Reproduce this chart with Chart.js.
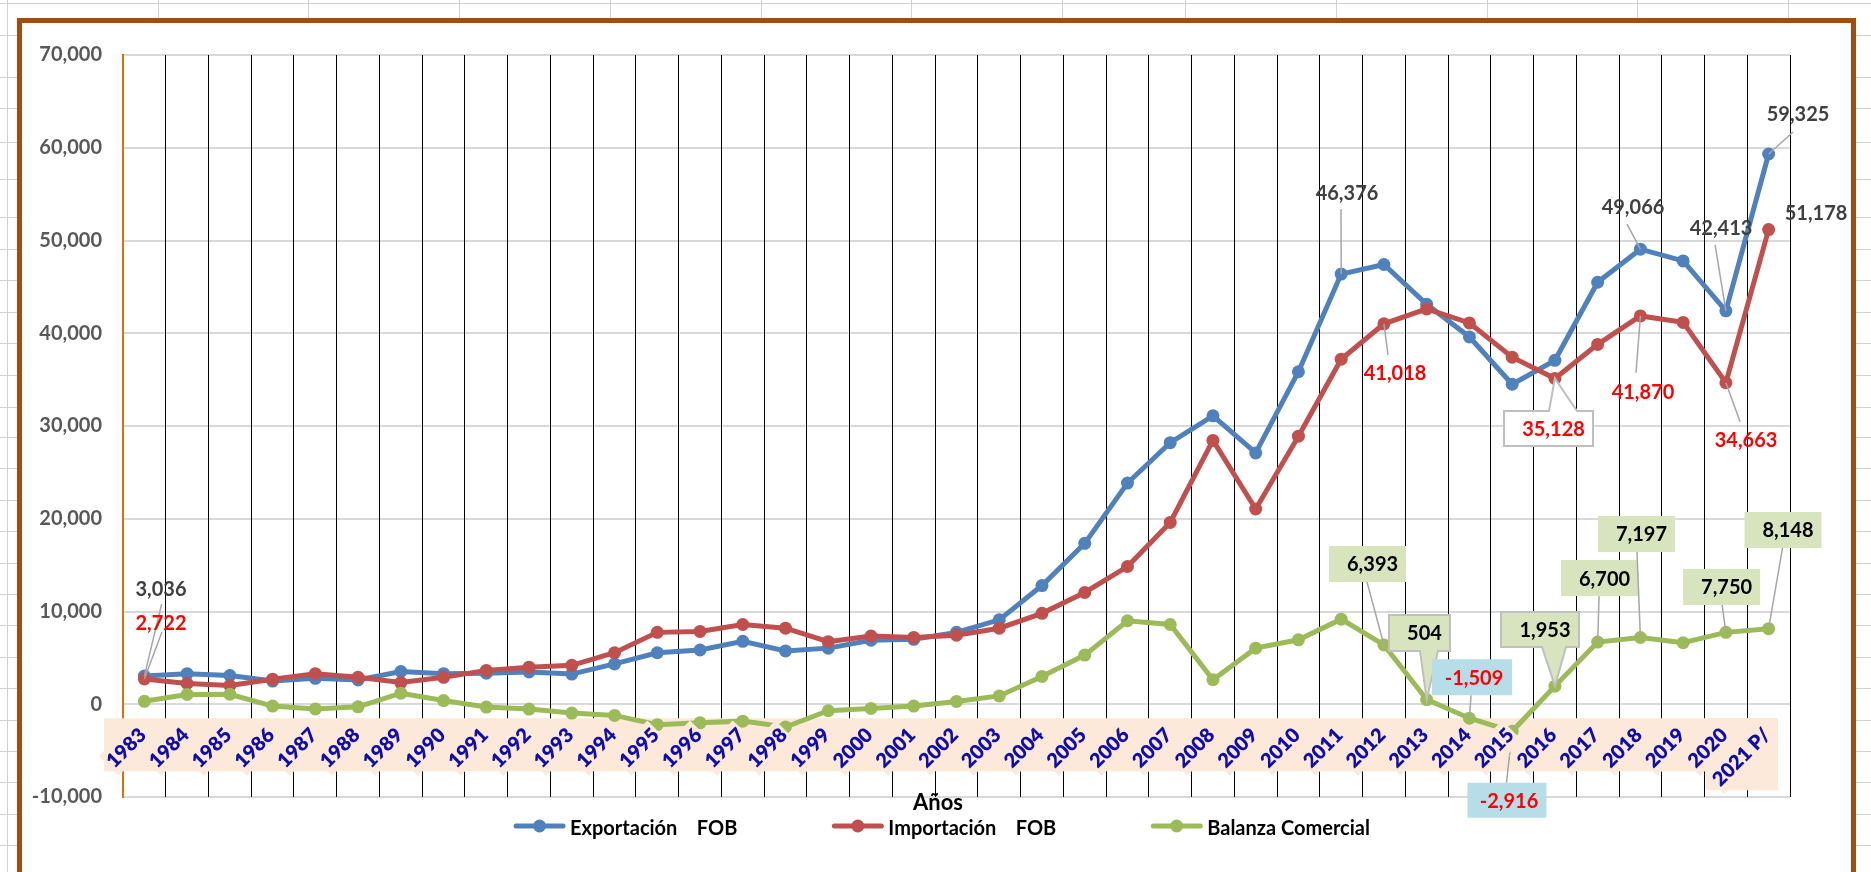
<!DOCTYPE html>
<html><head><meta charset="utf-8">
<script src="https://cdn.jsdelivr.net/npm/chart.js@4.4.1/dist/chart.umd.min.js"></script>
<style>
html,body{margin:0;padding:0;width:1871px;height:872px;overflow:hidden;background:#fff;}
#sheet{position:absolute;left:0;top:0;width:1871px;height:872px;}
.hl{position:absolute;height:1px;background:#D0D0D0;}
.vl{position:absolute;width:1px;background:#D0D0D0;}
#frame{position:absolute;left:17px;top:18px;width:1839px;height:900px;box-sizing:border-box;border:5px solid #9E4E12;background:#fff;}
canvas{position:absolute;left:0;top:0;}
</style></head><body>
<div id="sheet"></div><div id="frame"></div>
<canvas id="c" width="1871" height="872"></canvas>
<script>
const categories = ['1983','1984','1985','1986','1987','1988','1989','1990','1991','1992','1993','1994','1995','1996','1997','1998','1999','2000','2001','2002','2003','2004','2005','2006','2007','2008','2009','2010','2011','2012','2013','2014','2015','2016','2017','2018','2019','2020','2021 P/'];
const exportaciones = [3036,3300,3100,2500,2800,2620,3530,3300,3350,3480,3250,4350,5550,5850,6780,5750,6050,6900,7000,7750,9100,12800,17350,23850,28200,31100,27100,35850,46376,47411,43120,39600,34500,37081,45500,49066,47800,42413,59325];
const importaciones = [2722,2240,2020,2700,3300,2900,2340,2900,3650,4000,4200,5550,7750,7850,8600,8200,6750,7350,7200,7450,8200,9800,12050,14850,19600,28450,21050,28900,37200,41018,42616,41109,37416,35128,38800,41870,41170,34663,51178];
const balanza = [314,1060,1080,-200,-500,-280,1190,400,-300,-520,-950,-1200,-2200,-2000,-1820,-2450,-700,-450,-200,300,900,3000,5300,9000,8600,2650,6050,6950,9176,6393,504,-1509,-2916,1953,6700,7197,6630,7750,8148];
const seriesNames = ['Exportación    FOB','Importación    FOB','Balanza Comercial'];
const seriesColors = ['#4F81BD','#C0504D','#9BBB59'];
const yMin = -10000, yMax = 70000, yStep = 10000;
const axisTitle = 'Años';

// spreadsheet background lines (decoration)
const sheet = document.getElementById('sheet');
const rows = [3,35,77,108,142,179,217,249,280,312,343,375,407,437];
for (let y = 437 + 31.4; y < 872; y += 31.4) rows.push(Math.round(y));
rows.forEach(y => { const d = document.createElement('div'); d.className = 'hl'; d.style.cssText = `left:0;top:${y}px;width:1871px`; sheet.appendChild(d); });
[7,158,308,459,610,761,911,1062,1185,1336,1487,1637,1788].forEach(x => { const d = document.createElement('div'); d.className = 'vl'; d.style.cssText = `left:${x}px;top:0;height:872px`; sheet.appendChild(d); });

// data label placement (offsets from the data point, styles)
const labelCfg = [
  {ds:0,i:0,dx:16.6,dy:-88,color:'#404040',lead:[0.6,16]},
  {ds:0,i:28,dx:5.8,dy:-82,color:'#404040',lead:[-6,17]},
  {ds:0,i:35,dx:-7.4,dy:-43,color:'#404040',lead:[-6,18]},
  {ds:0,i:37,dx:-4.8,dy:-83,color:'#404040',lead:[-6,17]},
  {ds:0,i:38,dx:29.4,dy:-40,color:'#404040',lead:[-5,18]},
  {ds:1,i:0,dx:16.6,dy:-56,color:'#FF0000',lead:[1,9]},
  {ds:1,i:29,dx:11.1,dy:49,color:'#FF0000',lead:[-7,-18]},
  {ds:1,i:33,dx:-6.4,dy:50,color:'#FF0000',box:[89,35],fill:'#FFFFFF',stroke:'#BFBFBF',wedge:['top',0.5,28.5],tx:5},
  {ds:1,i:35,dx:2.6,dy:76,color:'#FF0000',lead:[-7,-19]},
  {ds:1,i:37,dx:20.2,dy:57,color:'#FF0000',lead:[-6,-18]},
  {ds:1,i:38,dx:47.4,dy:-17,color:'#404040'},
  {ds:2,i:29,dx:-16.4,dy:-81,color:'#000000',box:[77,36],fill:'#D7E4BD',lead:[-0.5,18],tx:5},
  {ds:2,i:30,dx:-7.2,dy:-66.6,color:'#000000',box:[61,36],fill:'#D7E4BD',stroke:'#BFBFBF',wedge:['bottom',0.5,18.5],tx:5},
  {ds:2,i:31,dx:2.6,dy:-41,color:'#FF0000',box:[80,36],fill:'#B7DEE8',lead:[-1,18],tx:2},
  {ds:2,i:32,dx:-5.2,dy:69,color:'#FF0000',box:[79,35],fill:'#B7DEE8',lead:[-0.5,-17.5],tx:2},
  {ds:2,i:33,dx:-14.9,dy:-56.6,color:'#000000',box:[78,35],fill:'#D7E4BD',stroke:'#BFBFBF',wedge:['bottom',2,26],tx:5},
  {ds:2,i:34,dx:1.9,dy:-64,color:'#000000',box:[77,36],fill:'#D7E4BD',lead:[-0.5,18],tx:5},
  {ds:2,i:35,dx:-3.9,dy:-103.5,color:'#000000',box:[77,36],fill:'#D7E4BD',lead:[0.5,18],tx:5},
  {ds:2,i:37,dx:-4.3,dy:-45.4,color:'#000000',box:[77,36],fill:'#D7E4BD',lead:[0.5,18],tx:5},
  {ds:2,i:38,dx:14.4,dy:-98.7,color:'#000000',box:[77,36],fill:'#D7E4BD',lead:[-0.5,18],tx:5}
];

const fmt = v => v.toLocaleString('en-US');

const decor = {
  id: 'decor',
  beforeDatasetsDraw(chart) {
    const {ctx, chartArea: a, scales: {x, y}} = chart;
    const y0 = y.getPixelForValue(0);
    ctx.save();
    ctx.fillStyle = '#FDE9D9';
    const right = a.right - 12;
    ctx.fillRect(a.left - 19, y0 + 14, right - (a.left - 19), 53);
    const lastX = x.getPixelForTick(categories.length - 1);
    ctx.fillRect(lastX - 63, y0 + 14, right - (lastX - 63), 72);
    ctx.restore();
  },
  afterDatasetsDraw(chart) {
    const ctx = chart.ctx;
    ctx.save();
    ctx.font = 'bold 20px Lato';
    ctx.textAlign = 'center';
    ctx.textBaseline = 'middle';
    labelCfg.forEach(c => {
      const pt = chart.getDatasetMeta(c.ds).data[c.i];
      const px = pt.x, py = pt.y;
      const cx = px + c.dx, cy = py + c.dy;
      if (c.lead) {
        ctx.strokeStyle = '#A6A6A6';
        ctx.lineWidth = 1.5;
        ctx.beginPath();
        ctx.moveTo(cx + c.lead[0], cy + c.lead[1]);
        ctx.lineTo(px, py);
        ctx.stroke();
      }
      if (c.box) {
        const [w, h] = c.box;
        const L = cx - w / 2, R = cx + w / 2, T = cy - h / 2, B = cy + h / 2;
        ctx.beginPath();
        if (c.wedge && c.wedge[0] === 'bottom') {
          ctx.moveTo(L, T); ctx.lineTo(R, T); ctx.lineTo(R, B);
          ctx.lineTo(cx + c.wedge[2], B); ctx.lineTo(px, py); ctx.lineTo(cx + c.wedge[1], B);
          ctx.lineTo(L, B); ctx.closePath();
        } else if (c.wedge && c.wedge[0] === 'top') {
          ctx.moveTo(L, T); ctx.lineTo(cx + c.wedge[1], T); ctx.lineTo(px, py); ctx.lineTo(cx + c.wedge[2], T);
          ctx.lineTo(R, T); ctx.lineTo(R, B); ctx.lineTo(L, B); ctx.closePath();
        } else {
          ctx.rect(L, T, w, h);
        }
        ctx.fillStyle = c.fill;
        ctx.fill();
        if (c.stroke) { ctx.strokeStyle = c.stroke; ctx.lineWidth = 2; ctx.stroke(); }
      }
      ctx.fillStyle = c.color;
      ctx.fillText(fmt(chart.data.datasets[c.ds].data[c.i]), cx + (c.tx || 0), cy + 1);
    });
    ctx.restore();
  },
  afterDraw(chart) {
    const ctx = chart.ctx;
    ctx.save();
    ctx.fillStyle = '#000000';
    ctx.textAlign = 'center';
    ctx.textBaseline = 'alphabetic';
    ctx.font = 'bold 22px Lato';
    ctx.fillText(axisTitle, 938, 810);
    // legend
    ctx.font = 'bold 20px Lato';
    ctx.textAlign = 'left';
    const items = chart.data.datasets.map(d => ({label: d.label, color: d.borderColor, w: ctx.measureText(d.label).width}));
    const symW = 51, symGap = 5, itemGap = 95;
    const total = items.reduce((s, it) => s + symW + symGap + it.w, 0) + itemGap * (items.length - 1);
    let x = 942 - total / 2;
    const ly = 826;
    items.forEach(it => {
      ctx.strokeStyle = it.color;
      ctx.lineWidth = 5;
      ctx.lineCap = 'round';
      ctx.beginPath(); ctx.moveTo(x + 2, ly); ctx.lineTo(x + symW - 2, ly); ctx.stroke();
      ctx.fillStyle = it.color;
      ctx.beginPath(); ctx.arc(x + symW / 2, ly, 6.5, 0, Math.PI * 2); ctx.fill();
      ctx.fillStyle = '#000000';
      ctx.fillText(it.label, x + symW + symGap, 835);
      x += symW + symGap + it.w + itemGap;
    });
    ctx.restore();
  }
};

function ds(i, data, order) {
  return {label: seriesNames[i], data, borderColor: seriesColors[i], backgroundColor: seriesColors[i],
    pointBackgroundColor: seriesColors[i], pointBorderColor: seriesColors[i], borderWidth: 5,
    pointRadius: 6.5, pointBorderWidth: 0, tension: 0, order};
}

Chart.defaults.font.family = 'Lato';
new Chart(document.getElementById('c').getContext('2d'), {
  type: 'line',
  data: {labels: categories, datasets: [ds(0, exportaciones, 3), ds(1, importaciones, 2), ds(2, balanza, 1)]},
  options: {
    responsive: false, animation: false, devicePixelRatio: 1, events: [],
    layout: {padding: {left: 20, top: 55, right: 81, bottom: 75}},
    plugins: {legend: {display: false}, tooltip: {enabled: false}, title: {display: false}},
    scales: {
      x: {
        type: 'category', position: {y: 0}, offset: true,
        grid: {offset: true, color: '#000000', lineWidth: 1, drawTicks: false},
        border: {display: false},
        ticks: {autoSkip: false, maxRotation: 45, minRotation: 45, padding: 19, labelOffset: -10, z: 1,
          color: '#0F0FA8', font: {size: 20, weight: '800'},
          showLabelBackdrop: true, backdropColor: '#FDE9D9', backdropPadding: 2}
      },
      y: {
        min: yMin, max: yMax,
        ticks: {stepSize: yStep, padding: 21, color: '#595959', font: {size: 20, weight: 'bold'}, callback: v => fmt(v)},
        grid: {color: '#D9D9D9', lineWidth: 2, drawTicks: false, z: -2},
        border: {display: true, color: '#E46C0A', width: 2},
        afterFit(s) { s.width = 103; }
      }
    }
  },
  plugins: [decor]
});
</script></body></html>
